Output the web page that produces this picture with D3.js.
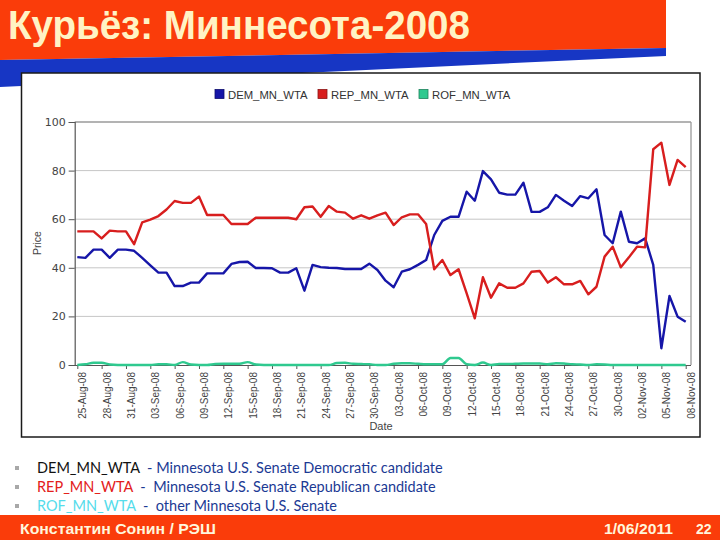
<!DOCTYPE html>
<html><head><meta charset="utf-8">
<script src="https://cdn.jsdelivr.net/npm/d3@7"></script>
<style>
html,body{margin:0;padding:0;background:#fff;}
svg{display:block;}
text{white-space:pre;}
</style></head>
<body>
<svg id="c" width="720" height="540"></svg>
<script>
// ---------------- DATA ----------------
const dates = [
 "25-Aug-08","26-Aug-08","27-Aug-08","28-Aug-08","29-Aug-08","30-Aug-08","31-Aug-08",
 "01-Sep-08","02-Sep-08","03-Sep-08","04-Sep-08","05-Sep-08","06-Sep-08","07-Sep-08","08-Sep-08","09-Sep-08","10-Sep-08",
 "11-Sep-08","12-Sep-08","13-Sep-08","14-Sep-08","15-Sep-08","16-Sep-08","17-Sep-08","18-Sep-08","19-Sep-08","20-Sep-08",
 "21-Sep-08","22-Sep-08","23-Sep-08","24-Sep-08","25-Sep-08","26-Sep-08","27-Sep-08","28-Sep-08","29-Sep-08","30-Sep-08",
 "01-Oct-08","02-Oct-08","03-Oct-08","04-Oct-08","05-Oct-08","06-Oct-08","07-Oct-08","08-Oct-08","09-Oct-08","10-Oct-08",
 "11-Oct-08","12-Oct-08","13-Oct-08","14-Oct-08","15-Oct-08","16-Oct-08","17-Oct-08","18-Oct-08","19-Oct-08","20-Oct-08",
 "21-Oct-08","22-Oct-08","23-Oct-08","24-Oct-08","25-Oct-08","26-Oct-08","27-Oct-08","28-Oct-08","29-Oct-08","30-Oct-08",
 "31-Oct-08","01-Nov-08","02-Nov-08","03-Nov-08","04-Nov-08","05-Nov-08","06-Nov-08","07-Nov-08","08-Nov-08"
];
const demValues = [
 44.4,44.1,47.5,47.5,44.1,47.5,47.5,47.0,44.1,41.0,38.0,38.0,32.5,32.5,33.9,33.9,37.7,
 37.7,37.7,41.6,42.4,42.5,39.9,39.9,39.8,38.0,38.0,
 39.8,30.6,41.2,40.3,40.0,39.9,39.5,39.5,39.5,41.7,
 39.1,34.7,32.0,38.4,39.4,41.2,43.2,53.5,59.3,61.0,
 61.0,71.3,67.6,79.8,76.4,70.9,70.1,70.1,75.0,63.0,
 63.0,64.9,70.0,67.6,65.4,69.5,68.6,72.3,53.5,50.1,
 63.1,50.7,50.1,52.1,41.2,6.9,28.4,19.9,17.8
];
const repValues = [
 55.0,55.0,55.0,52.1,55.3,55.0,55.0,49.7,58.7,59.8,61.3,64.0,67.5,66.7,66.7,69.3,61.7,
 61.7,61.7,58.0,58.0,58.0,60.6,60.6,60.6,60.6,60.6,
 60.0,64.9,65.2,61.0,65.4,63.1,62.7,60.2,61.6,60.2,
 61.6,62.7,57.6,60.8,62.0,62.0,58.0,39.4,43.2,37.0,
 39.4,29.5,19.2,36.1,27.7,33.6,31.8,31.8,33.6,38.4,
 38.7,33.9,36.1,33.2,33.2,34.6,29.1,32.2,44.6,48.7,
 40.2,44.3,48.7,48.4,88.8,91.5,74.1,84.4,81.4
];
const rofValues = [
 0,0.3,0.9,0.9,0.2,0,0,0,0,0,0.3,0.3,0,1.2,0.2,0,0,
 0.4,0.5,0.5,0.5,1.2,0.2,0,0,0,0,
 0,0,0,0,0,0.8,0.9,0.5,0.4,0.3,
 0,0,0.5,0.7,0.7,0.5,0.3,0.3,0.3,2.9,
 2.9,0.3,0,1.0,0,0.4,0.4,0.5,0.6,0.6,
 0.6,0.3,0.7,0.6,0.3,0.2,0,0.3,0.2,0,
 0,0,0,0,0,0,0,0,0
];
const seriesNames = ["DEM_MN_WTA","REP_MN_WTA","ROF_MN_WTA"];
const yTicks = [0,20,40,60,80,100];
const xTickLabels = [
 "25-Aug-08","28-Aug-08","31-Aug-08","03-Sep-08","06-Sep-08","09-Sep-08","12-Sep-08","15-Sep-08","18-Sep-08",
 "21-Sep-08","24-Sep-08","27-Sep-08","30-Sep-08","03-Oct-08","06-Oct-08","09-Oct-08","12-Oct-08","15-Oct-08",
 "18-Oct-08","21-Oct-08","24-Oct-08","27-Oct-08","30-Oct-08","02-Nov-08","05-Nov-08","08-Nov-08"
];
const titleText = "Курьёз: Миннесота-2008";
const bulletItems = [
 {code:"DEM_MN_WTA", desc:"  - Minnesota U.S. Senate Democratic candidate"},
 {code:"REP_MN_WTA", desc:"  -  Minnesota U.S. Senate Republican candidate"},
 {code:"ROF_MN_WTA", desc:"  -  other Minnesota U.S. Senate"}
];
const footerLeft = "Константин Сонин / РЭШ";
const footerDate = "1/06/2011";
const footerPage = "22";

// ---------------- STYLE ----------------
const lineColors = ["#1616A8","#D81E1E","#2FC98F"];
const codeColors = ["#111111","#E3201A","#55DCEB"];
const descColor = "#1B3A94";
const bandRed = "#FA3C0A";
const bandBlue = "#1736C4";

const svg = d3.select("#c");
const parse = d3.timeParse("%d-%b-%y");
const fmt = d3.timeFormat("%d-%b-%y");

// header bands
svg.append("path").attr("d","M0,0 L666,0 L666,48 L0,60 Z").attr("fill",bandRed);
svg.append("path").attr("d","M0,60 L666,48 L666,56 L0,87 Z").attr("fill",bandBlue);
svg.append("text").attr("x",8).attr("y",38.5)
  .attr("font-family","'Liberation Sans Narrow','Arial Narrow','Liberation Sans',sans-serif")
  .attr("font-weight","bold").attr("font-size",40).attr("fill","#FFF3C4")
  .attr("textLength",462).attr("lengthAdjust","spacingAndGlyphs")
  .text(titleText);

// chart panel
svg.append("rect").attr("x",21.5).attr("y",73).attr("width",678.5).attr("height",364)
  .attr("fill","#fff").attr("stroke","#1a1a1a").attr("stroke-width",1.5);

const L=74.7, R=691, T=122, B=365;
const x = d3.scaleTime().domain([parse(dates[0]), parse(dates[dates.length-1])]).range([77.3,685.7]);
const y = d3.scaleLinear().domain([0,100]).range([B,T]);

// gridlines
svg.append("g").selectAll("line").data(yTicks.filter(t=>t>0&&t<100)).join("line")
  .attr("x1",L).attr("x2",R).attr("y1",d=>y(d)).attr("y2",d=>y(d))
  .attr("stroke","#c6c6c6").attr("stroke-width",1);
// outline top & right
svg.append("line").attr("x1",L).attr("x2",R).attr("y1",T).attr("y2",T).attr("stroke","#9a9a9a").attr("stroke-width",1.3);
svg.append("line").attr("x1",R).attr("x2",R).attr("y1",T).attr("y2",B).attr("stroke","#9a9a9a").attr("stroke-width",1.3);

// y axis
const ya = svg.append("g").attr("transform",`translate(${L},0)`)
  .call(d3.axisLeft(y).tickValues(yTicks).tickSize(6).tickPadding(3));
ya.select(".domain").attr("stroke","#555").attr("stroke-width",1.2);
ya.selectAll(".tick line").attr("stroke","#555");
ya.selectAll("text").attr("font-family","'DejaVu Sans',sans-serif").attr("font-size",11).attr("fill","#444");

// x axis
const xa = svg.append("g").attr("transform",`translate(0,${B})`)
  .call(d3.axisBottom(x).tickValues(xTickLabels.map(parse)).tickFormat(fmt).tickSize(4));
xa.select(".domain").remove();
xa.selectAll(".tick line").attr("stroke","#555");
xa.selectAll("text").attr("font-family","'Liberation Sans',Arial,sans-serif").attr("font-size",10).attr("fill","#444")
  .attr("transform","rotate(-90)").attr("text-anchor","end")
  .attr("x",-7).attr("y",5).attr("dy","0.35em");
svg.append("line").attr("x1",L).attr("x2",R).attr("y1",B+0.5).attr("y2",B+0.5).attr("stroke","#555").attr("stroke-width",1.2);

// axis titles
svg.append("text").attr("transform","translate(41,243) rotate(-90)").attr("text-anchor","middle")
  .attr("font-family","'Liberation Sans',Arial,sans-serif").attr("font-size",10.5).attr("fill","#444").text("Price");
svg.append("text").attr("x",381).attr("y",430).attr("text-anchor","middle")
  .attr("font-family","'Liberation Sans',Arial,sans-serif").attr("font-size",11).attr("fill","#444").text("Date");

// series
const seriesVals = [demValues, repValues, rofValues];
const curves = [d3.curveLinear, d3.curveLinear, d3.curveMonotoneX];
[2,0,1].forEach(i=>{
  const pts = dates.map((d,k)=>({date:parse(d), v:seriesVals[i][k]}));
  svg.append("path").datum(pts)
    .attr("d", d3.line().x(d=>x(d.date)).y(d=>y(d.v)).curve(curves[i]))
    .attr("fill","none").attr("stroke",lineColors[i]).attr("stroke-width",2.4)
    .attr("stroke-linejoin","round");
});

// legend
const legX = [215, 318, 419];
seriesNames.forEach((n,i)=>{
  svg.append("rect").attr("x",legX[i]).attr("y",89.5).attr("width",9).attr("height",9)
    .attr("fill",lineColors[i]).attr("stroke",d3.color(lineColors[i]).darker(1.2)).attr("stroke-width",0.8);
  svg.append("text").attr("x",legX[i]+13).attr("y",98.5)
    .attr("font-family","'Liberation Sans',Arial,sans-serif").attr("font-size",11.3).attr("fill","#333").text(n);
});

// bullet list
const bx = 37, by = [473, 492, 511];
const bFont = "Lato,'Open Sans',sans-serif";
let bSize = 14;
const tmp = svg.append("text").attr("font-family",bFont).attr("font-size",bSize)
  .text(bulletItems[0].code + bulletItems[0].desc);
const w0 = tmp.node().getComputedTextLength();
tmp.remove();
bSize = bSize * 406 / w0;
bulletItems.forEach((b,i)=>{
  svg.append("rect").attr("x",15).attr("y",by[i]-7).attr("width",4).attr("height",4).attr("fill","#a8a8a8");
  const t = svg.append("text").attr("x",bx).attr("y",by[i]).attr("font-family",bFont).attr("font-size",bSize);
  t.append("tspan").attr("fill",codeColors[i]).text(b.code);
  t.append("tspan").attr("fill",descColor).text(b.desc);
});

// footer
svg.append("rect").attr("x",0).attr("y",515).attr("width",720).attr("height",25).attr("fill",bandRed);
const ff = "'Liberation Sans','Arial',sans-serif";
svg.append("text").attr("x",20).attr("y",534).attr("font-family",ff).attr("font-weight","bold")
  .attr("font-size",15).attr("fill","#FFF6DC").attr("textLength",196).attr("lengthAdjust","spacingAndGlyphs").text(footerLeft);
svg.append("text").attr("x",604).attr("y",534).attr("font-family",ff).attr("font-weight","bold")
  .attr("font-size",15).attr("fill","#FFF6DC").attr("textLength",69).attr("lengthAdjust","spacingAndGlyphs").text(footerDate);
svg.append("text").attr("x",696).attr("y",534).attr("font-family",ff).attr("font-weight","bold")
  .attr("font-size",14).attr("fill","#FFF6DC").text(footerPage);
</script>
</body></html>
